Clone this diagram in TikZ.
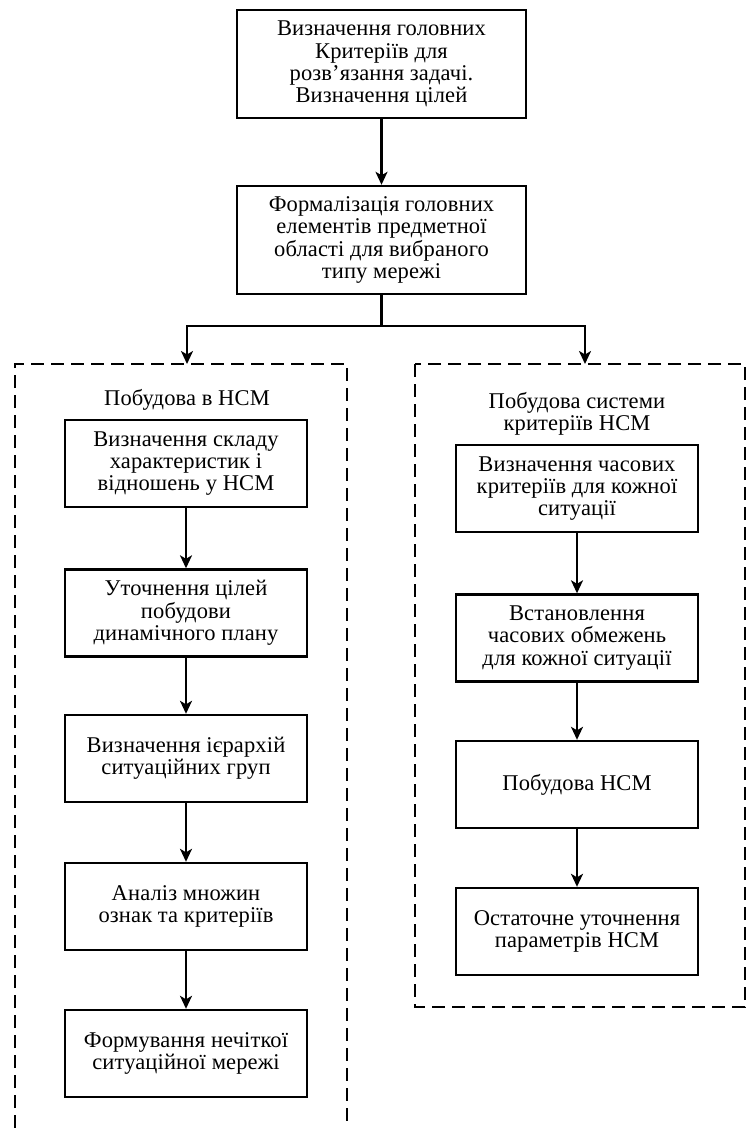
\documentclass[tikz,border=0pt]{standalone}
\usepackage{fontspec}
\setmainfont{Liberation Serif}[LetterSpace=0.6]
\usetikzlibrary{arrows.meta}
\begin{document}
\begin{tikzpicture}[x=1pt,y=-1pt,
  txt/.style={align=center, inner sep=0pt, font=\fontsize{22.5}{22.3}\selectfont},
  box/.style={txt, draw, line width=2.4pt},
  bigbox/.style={box, minimum width=289pt, minimum height=108pt},
  lbox/.style={box, minimum width=242pt, minimum height=87pt},
  rbox/.style={box, minimum width=242pt, minimum height=87pt},
  arr/.style={line width=2.2pt, -{Stealth[length=13pt,width=12pt,inset=3.5pt]}},
  conn/.style={line width=2.2pt},
  dbox/.style={line width=2pt, dash pattern=on 13pt off 7pt}]
\useasboundingbox[fill=white] (0,0) rectangle (750,1128);

% top column
\node[bigbox] (a) at (381.5,64) {Визначення головних\\Критеріїв для\\розв’язання задачі.\\Визначення цілей};
\node[bigbox] (b) at (381.5,240) {Формалізація головних\\елементів предметної\\області для вибраного\\типу мережі};
\draw[arr] (a) -- (b);

% dashed containers
\draw[dbox] (15,1128) -- (15,364) -- (347,364) -- (347,1128);
\draw[dbox] (415,364) rectangle (745,1007);
\coordinate (lt) at (187,364);
\coordinate (rt) at (585,364);
\coordinate (split) at (381.5,326);
\draw[conn] (b.south) -- (split);
\draw[arr] (split) -| (lt);
\draw[arr] (split) -| (rt);

% left column
\node[txt] (lt1) at (187,400) {Побудова в НСМ};
\node[lbox] (l1) at (186,463.5) {Визначення складу\\характеристик і\\відношень у НСМ};
\node[lbox] (l2) at (186,613) {Уточнення цілей\\побудови\\динамічного плану};
\node[lbox] (l3) at (186,758.5) {Визначення ієрархій\\ситуаційних груп};
\node[lbox] (l4) at (186,906.5) {Аналіз множин\\ознак та критеріїв};
\node[lbox] (l5) at (186,1053.5) {Формування нечіткої\\ситуаційної мережі};
\draw[arr] (l1) -- (l2);
\draw[arr] (l2) -- (l3);
\draw[arr] (l3) -- (l4);
\draw[arr] (l4) -- (l5);

% right column
\node[txt] (rt1) at (577,413.5) {Побудова системи\\критеріїв НСМ};
\node[rbox] (r1) at (577,488.5) {Визначення часових\\критеріїв для кожної\\ситуації};
\node[rbox] (r2) at (577,638) {Встановлення\\часових обмежень\\для кожної ситуації};
\node[rbox] (r3) at (577,784.5) {Побудова НСМ};
\node[rbox] (r4) at (577,931.5) {Остаточне уточнення\\параметрів НСМ};
\draw[arr] (r1) -- (r2);
\draw[arr] (r2) -- (r3);
\draw[arr] (r3) -- (r4);
\end{tikzpicture}
\end{document}
